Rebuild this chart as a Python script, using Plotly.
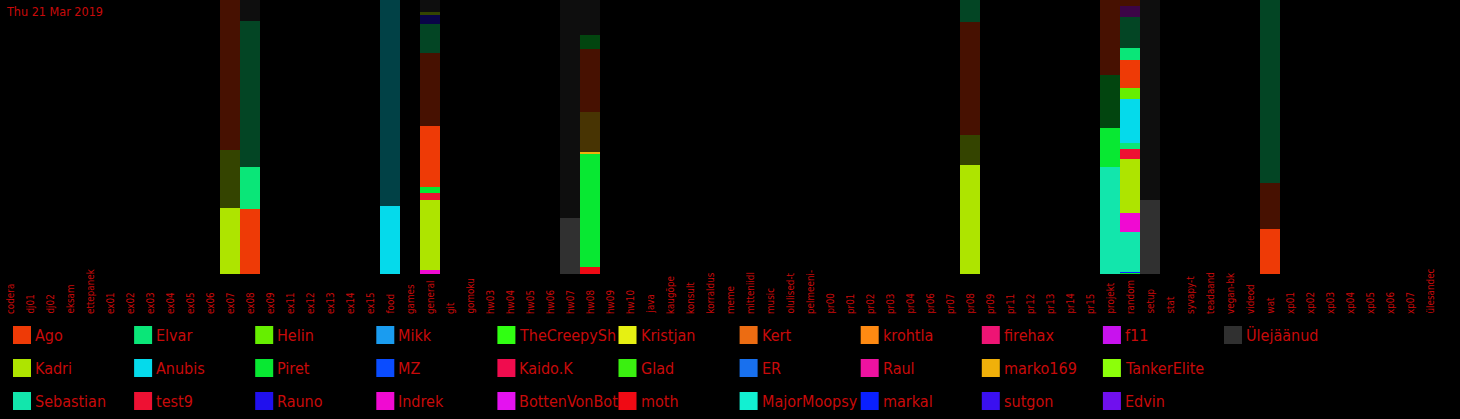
import plotly.graph_objects as go

# ---------------- data ----------------
channels = ["codera", "dj01", "dj02", "eksam", "ettepanek", "ex01", "ex02", "ex03", "ex04",
            "ex05", "ex06", "ex07", "ex08", "ex09", "ex11", "ex12", "ex13", "ex14", "ex15",
            "food", "games", "general", "git", "gomoku", "hw03", "hw04", "hw05", "hw06",
            "hw07", "hw08", "hw09", "hw10", "java", "kaugõpe", "konsult", "korraldus",
            "meme", "mitteniidl", "music", "olulised-t", "pelmeeni-", "pr00", "pr01", "pr02",
            "pr03", "pr04", "pr06", "pr07", "pr08", "pr09", "pr11", "pr12", "pr13", "pr14",
            "pr15", "projekt", "random", "setup", "stat", "syvapy-t", "teadaand", "vegan-bk",
            "videod", "wat", "xp01", "xp02", "xp03", "xp04", "xp05", "xp06", "xp07", "ülesandec"]

# users in legend order (column-major, 3 rows)
users = ["Ago", "Kadri", "Sebastian", "Elvar", "Anubis", "test9", "Helin", "Piret", "Rauno",
         "Mikk", "MZ", "Indrek", "TheCreepySh", "Kaido.K", "BottenVonBot", "Kristjan", "Glad",
         "moth", "Kert", "ER", "MajorMoopsy", "krohtla", "Raul", "markal", "firehax",
         "marko169", "sutgon", "f11", "TankerElite", "Edvin", "Ülejäänud"]
user_colors = ["#EE3A06", "#AEE400", "#12E6AC", "#0AE678", "#05DAEB", "#EE1133", "#66EE00",
               "#08E832", "#2010EE", "#1A9CF0", "#0A4CFF", "#F00AD2", "#30FF12", "#F00C4E",
               "#E412F0", "#E6F012", "#3AF010", "#F00A14", "#EC6C12", "#1870EE", "#12F0D2",
               "#FF8A12", "#EE12A0", "#0A20FF", "#EE1474", "#F0B00A", "#3A10F0", "#C812EE",
               "#8CFF0A", "#7010EE", "#303030"]

# per-channel stacks, bottom to top: (user, share, earlier-period flag)
stacks = {
    "ex07": [("Kadri", 66, 0), ("Kadri", 58, 1), ("Ago", 150, 1)],
    "ex08": [("Ago", 65, 0), ("Elvar", 42, 0), ("Elvar", 146, 1), ("Ülejäänud", 21, 1)],
    "food": [("Anubis", 68, 0), ("Anubis", 206, 1)],
    "general": [("Indrek", 4, 0), ("Kadri", 70, 0), ("test9", 7, 0), ("Piret", 6, 0),
                ("Ago", 61, 0), ("Ago", 73, 1), ("Elvar", 29, 1), ("Rauno", 9, 1),
                ("Kadri", 3, 1), ("Ülejäänud", 12, 1)],
    "hw07": [("Ülejäänud", 56, 0), ("Ülejäänud", 218, 1)],
    "hw08": [("moth", 7, 0), ("Piret", 113, 0), ("marko169", 2, 0), ("marko169", 40, 1),
             ("Ago", 63, 1), ("Piret", 14, 1), ("Ülejäänud", 35, 1)],
    "pr08": [("Kadri", 109, 0), ("Kadri", 30, 1), ("Ago", 113, 1), ("Elvar", 22, 1)],
    "projekt": [("Sebastian", 107, 0), ("Piret", 39, 0), ("Piret", 53, 1), ("Ago", 75, 1)],
    "random": [("Piret", 1, 0), ("markal", 1, 0), ("Sebastian", 40, 0), ("Indrek", 19, 0),
               ("Kadri", 54, 0), ("test9", 10, 0), ("Elvar", 6, 0), ("Anubis", 44, 0),
               ("Helin", 11, 0), ("Ago", 28, 0), ("Elvar", 12, 0), ("Elvar", 31, 1),
               ("f11", 11, 1), ("Ago", 6, 1)],
    "setup": [("Ülejäänud", 74, 0), ("Ülejäänud", 200, 1)],
    "wat": [("Ago", 45, 0), ("Ago", 46, 1), ("Elvar", 183, 1)],
}

title_text = "Thu 21 Mar 2019"

# ---------------- styling helpers ----------------
W, H = 1460, 419
PLOT_H = 274
TXT = "#C80A0A"
FONT = "DejaVu Sans Condensed, sans-serif"
DARK = 0.3

color_of = dict(zip(users, user_colors))


def darken(hex_color, f):
    h = hex_color.lstrip("#")
    r, g, b = (int(h[i:i + 2], 16) for i in (0, 2, 4))
    return "#%02X%02X%02X" % (int(r * f), int(g * f), int(b * f))


def px_x(px):
    return px / W


def px_y(py):
    return (PLOT_H - py) / PLOT_H


fig = go.Figure()
for ch, segs in stacks.items():
    for user, val, earlier in segs:
        col = color_of[user]
        if earlier:
            col = darken(col, DARK)
        fig.add_trace(go.Bar(x=[ch], y=[val], name=user, marker_color=col,
                             marker_line_width=0, showlegend=False))

annotations = []
# category labels (bottom-aligned, vertical)
for ch in channels:
    annotations.append(dict(x=ch, xref="x", y=px_y(316), yref="paper", text=ch,
                            textangle=-90, showarrow=False, xanchor="center",
                            yanchor="bottom", font=dict(family=FONT, size=9.8, color=TXT)))
# title
annotations.append(dict(x=px_x(4), y=px_y(2), xref="paper", yref="paper", text=title_text,
                        showarrow=False, xanchor="left", yanchor="top",
                        font=dict(family=FONT, size=12.5, color=TXT)))

# legend drawn as grid (3 rows, column-major)
shapes = []
col_w = 121.1
row_tops = [326, 359, 392]
for i, (u, c) in enumerate(zip(users, user_colors)):
    col_i, row_i = divmod(i, 3)
    x0 = 13 + col_w * col_i
    y0 = row_tops[row_i]
    shapes.append(dict(type="rect", xref="paper", yref="paper",
                       x0=px_x(x0), x1=px_x(x0 + 18), y0=px_y(y0 + 18), y1=px_y(y0),
                       fillcolor=c, line=dict(width=0)))
    annotations.append(dict(x=px_x(x0 + 20), y=px_y(y0 + 9), xref="paper", yref="paper",
                            text=u, showarrow=False, xanchor="left", yanchor="middle",
                            font=dict(family=FONT, size=16, color=TXT)))

fig.update_layout(
    width=W, height=H,
    margin=dict(l=0, r=0, t=0, b=H - PLOT_H, pad=0),
    barmode="stack", barnorm="percent", bargap=0,
    plot_bgcolor="#000000", paper_bgcolor="#000000",
    xaxis=dict(type="category", categoryorder="array", categoryarray=channels,
               range=[-0.5, len(channels) + 0.5], showticklabels=False,
               showgrid=False, zeroline=False, showline=False, ticks=""),
    yaxis=dict(range=[0, 100], visible=False, showgrid=False, zeroline=False),
    annotations=annotations, shapes=shapes, showlegend=False,
)

fig.write_html("out.html", config={"displayModeBar": False},
               post_script="document.body.style.margin='0px';document.body.style.background='#000';")
